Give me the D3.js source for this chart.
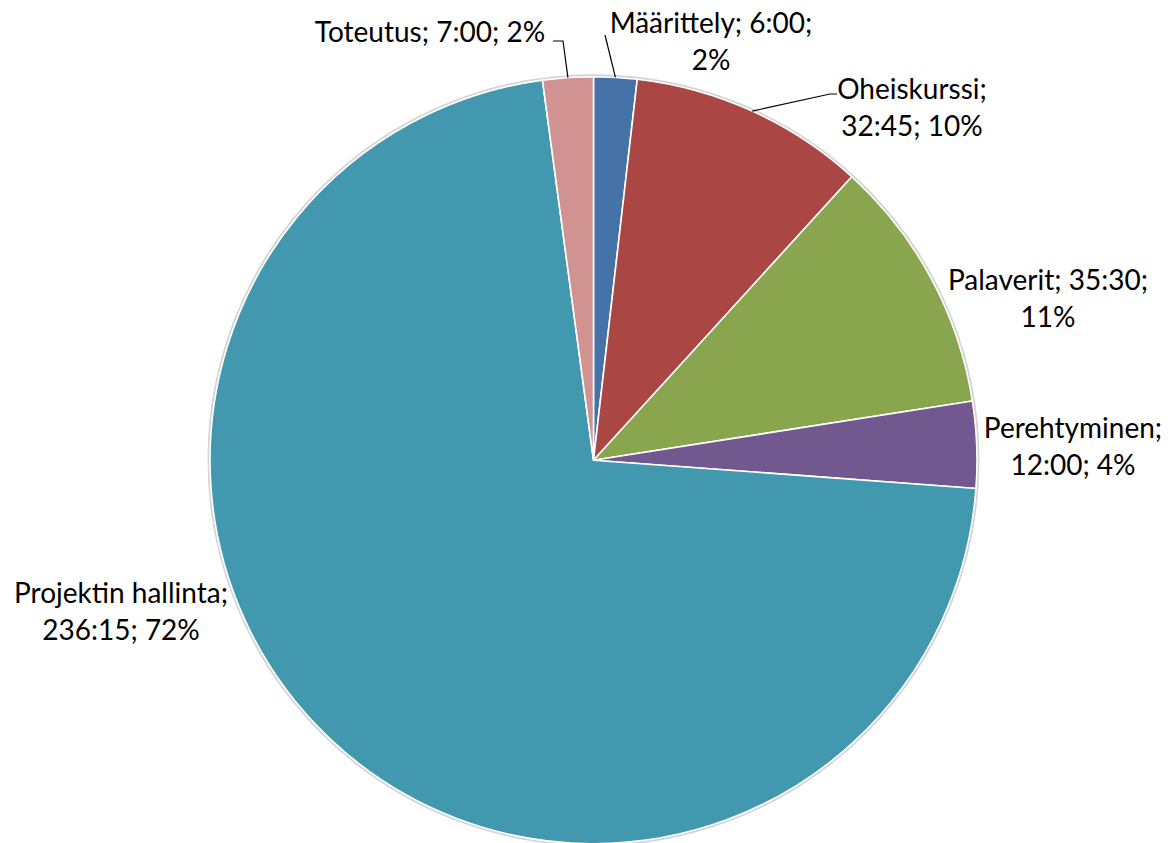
<!DOCTYPE html>
<html>
<head>
<meta charset="utf-8">
<script src="https://cdn.jsdelivr.net/npm/d3@7"></script>
<style>
  html, body { margin:0; padding:0; background:#fff; }
  #plot { width:1172px; height:843px; }
</style>
</head>
<body>
<div id="plot" class="canvas"></div>
<script>
//data: tasks, hours (h:mm)
var tasks = ['Määrittely','Oheiskurssi','Palaverit','Perehtyminen','Projektin hallinta','Toteutus'];
var times = ['6:00','32:45','35:30','12:00','236:15','7:00'];
var percents = ['2%','10%','11%','4%','72%','2%'];
var colors = ['#4572A7','#AA4643','#89A54E','#71588F','#4198AF','#D19392'];

//label lines (how the text wraps)
var labelLines = [
	['Määrittely; 6:00;','2%'],
	['Oheiskurssi;','32:45; 10%'],
	['Palaverit; 35:30;','11%'],
	['Perehtyminen;','12:00; 4%'],
	['Projektin hallinta;','236:15; 72%'],
	['Toteutus; 7:00; 2%']
];

//layout of labels: centre x, first baseline y, leader line bend points (ends at label)
var labelLayout = [
	{x:711, y:33, leader:[[605,35]]},
	{x:912, y:99, leader:[[830,94],[837,94]]},
	{x:1048, y:290, leader:null},
	{x:1073, y:438, leader:null},
	{x:121, y:603, leader:null},
	{x:430, y:42, leader:[[563,41],[553,41]]}
];

var width = 1172, height = 843;
var cx = 593.5, cy = 460.2, radius = 383.5;

function toHours(s){
	var p = s.split(':');
	return +p[0] + (+p[1])/60;
}

var data = tasks.map(function(t,i){
	return {name:t, value:toHours(times[i]), i:i};
});

var svg = d3.select('#plot')
	.append('svg')
	.attr('width',width)
	.attr('height',height);

var plot = svg.append('g')
	.attr('transform','translate('+cx+','+cy+')');

var pie = d3.pie()
	.sort(null)
	.value(function(d){return d.value;});

var arc = d3.arc()
	.innerRadius(0)
	.outerRadius(radius);

var edge = d3.arc()
	.innerRadius(radius)
	.outerRadius(radius);

//soft grey rim round the pie
plot.append('circle')
	.attr('r',radius+1)
	.style('fill','none')
	.style('stroke','#d4d4d4')
	.style('stroke-width',3);

var arcs = pie(data);

plot.selectAll('path.slice')
	.data(arcs)
	.enter()
	.append('path')
	.attr('class','slice')
	.attr('d',arc)
	.style('fill',function(d){return colors[d.data.i];})
	.style('stroke','#fff')
	.style('stroke-width',1.6)
	.style('stroke-linejoin','round');

//leader lines
arcs.forEach(function(d){
	var lay = labelLayout[d.data.i];
	if(!lay.leader) return;
	var c = edge.centroid(d);
	var pts = [[c[0]+cx, c[1]+cy]].concat(lay.leader);
	svg.append('path')
		.attr('d',d3.line()(pts))
		.style('fill','none')
		.style('stroke','#000')
		.style('stroke-width',1.2);
});

//labels
arcs.forEach(function(d){
	var i = d.data.i;
	var lay = labelLayout[i];
	var t = svg.append('text')
		.attr('x',lay.x)
		.attr('y',lay.y)
		.attr('text-anchor','middle')
		.attr('font-family','Lato, "Open Sans", sans-serif')
		.attr('font-size',28)
		.style('fill','#000');
	labelLines[i].forEach(function(line,k){
		t.append('tspan')
			.attr('x',lay.x)
			.attr('dy',k===0 ? 0 : 36.5)
			.text(line);
	});
});
</script>
</body>
</html>
